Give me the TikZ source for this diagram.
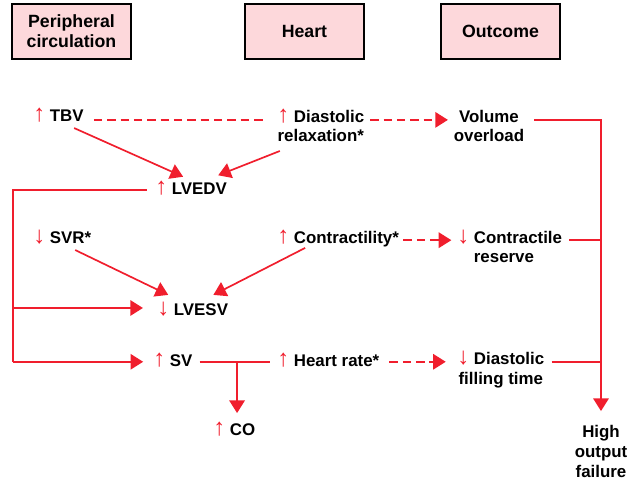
\documentclass[tikz,border=0pt]{standalone}
\usepackage{fontspec}
\setmainfont{Liberation Sans}
\usepackage{xcolor}
\usetikzlibrary{positioning,arrows.meta}
\definecolor{figred}{RGB}{240,30,45}
\definecolor{boxpink}{RGB}{253,216,219}
\newcommand{\up}{{\textcolor{figred}{\fontsize{17}{17}\mdseries\selectfont ↑}}}
\newcommand{\dn}{{\textcolor{figred}{\fontsize{17}{17}\mdseries\selectfont ↓}}}

\begin{document}
\begin{tikzpicture}[x=0.025cm,y=-0.025cm]
    \tikzstyle{rec} = [rectangle,draw,line width=0.8pt,fill=boxpink,minimum width=2.975cm,minimum height=1.375cm,align=center,font=\bfseries\fontsize{12.6}{14.2}\selectfont]
    \tikzstyle{lbl} = [inner sep=0pt,align=center,font=\bfseries\fontsize{12}{14}\selectfont]
    \tikzstyle{con} = [draw=figred,line width=1.2pt]
    \tikzstyle{arr} = [con,-{Triangle[length=9pt,width=11pt]}]
    \tikzstyle{dsh} = [con,dash pattern=on 6pt off 3.5pt]
    \useasboundingbox (0,0) rectangle (640,486);
    \node [rec] (pc) at (71.5,31.5) {Peripheral\\circulation};
    \node [rec] (heart) at (304.5,31.5) {Heart};
    \node [rec] (outcome) at (500.5,31.5) {Outcome};
    \node [lbl, anchor=base west] (tbv) at (33,122) {\up\ TBV};
    \node [lbl, anchor=base west] (dia) at (277,142) {\up\ Diastolic\\relaxation*};
    \node [lbl, anchor=base] (vol) at (489,142) {Volume\\overload};
    \node [lbl, anchor=base west] (lvedv) at (155,195) {\up\ LVEDV};
    \node [lbl, anchor=base west] (svr) at (33,243) {\dn\ SVR*};
    \node [lbl, anchor=base west] (contr) at (277,243) {\up\ Contractility*};
    \node [lbl, anchor=base west] (cres) at (457,243) {\dn\ \begin{tabular}[t]{@{}l@{}}Contractile\\reserve\end{tabular}};
    \node [lbl, anchor=base west] (lvesv) at (157,316) {\dn\ LVESV};
    \node [lbl, anchor=base west] (sv) at (153,366) {\up\ SV};
    \node [lbl, anchor=base west] (hr) at (277,366) {\up\ Heart rate*};
    \node [lbl, anchor=base west] (dft) at (457,384) {\dn\ Diastolic\\filling time};
    \node [lbl, anchor=base west] (co) at (213,435) {\up\ CO};
    \node [lbl, anchor=base] (high) at (601,477) {High\\output\\failure};
    \coordinate (bus) at (13,0);
    \draw [dsh] ([xshift=7pt,yshift=1.5pt]tbv.base east) -- ([xshift=-10pt,yshift=1.5pt]tbv.base east -| dia.west);
    \draw [dsh,arr] ([xshift=4pt,yshift=1.5pt]tbv.base east -| dia.east) -- ([xshift=-4pt,yshift=1.5pt]tbv.base east -| vol.west);
    \draw [arr] ([xshift=-7pt,yshift=-4.3pt]tbv.base east) -- ([xshift=20pt,yshift=13pt]lvedv.base west);
    \draw [arr] ([xshift=2pt,yshift=-6.4pt]dia.base west) -- ([xshift=-6.4pt,yshift=14pt]lvedv.base east);
    \draw [con] ([xshift=-6pt,yshift=3.5pt]lvedv.base west) -- ([yshift=3.5pt]lvedv.base west -| bus) -- ([yshift=3pt]sv.base west -| bus);
    \draw [arr] ([yshift=5.7pt]lvesv.base west -| bus) -- ([xshift=-10pt,yshift=5.7pt]lvesv.base west);
    \draw [arr] ([yshift=3pt]sv.base west -| bus) -- ([xshift=-7pt,yshift=3pt]sv.base west);
    \draw [arr] ([xshift=30pt,yshift=-5pt]svr.base west) -- ([xshift=8pt,yshift=15pt]lvesv.base west);
    \draw [arr] ([xshift=20pt,yshift=-3.5pt]contr.base west) -- ([xshift=-10.6pt,yshift=15pt]lvesv.base east);
    \draw [dsh,arr] ([xshift=3pt,yshift=2pt]contr.base east) -- ([xshift=-4pt,yshift=2pt]contr.base east -| cres.west);
    \draw [con] ([xshift=5pt,yshift=3pt]sv.base east) -- ([xshift=-5pt,yshift=3pt]sv.base east -| hr.west);
    \draw [arr] ([xshift=2pt,yshift=3pt]sv.base east -| co.base) -- ([xshift=2pt,yshift=15.6pt]co.base);
    \draw [dsh,arr] ([xshift=7pt,yshift=3pt]hr.base east) -- ([xshift=-8pt,yshift=3pt]hr.base east -| dft.west);
    \draw [arr] ([xshift=7pt,yshift=1.5pt]tbv.base east -| vol.east) -| ([yshift=10pt]high.north);
    \draw [con] ([xshift=5pt,yshift=2pt]contr.base east -| cres.east) -- ([yshift=2pt]contr.base east -| high.north);
    \draw [con] ([xshift=5pt,yshift=3pt]hr.base east -| dft.east) -- ([yshift=3pt]hr.base east -| high.north);
\end{tikzpicture}
\end{document}
